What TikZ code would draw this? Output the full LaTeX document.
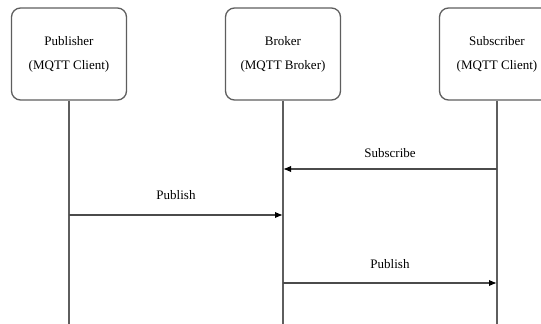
\documentclass[tikz,border=0pt]{standalone}
\usepackage{fontspec}
\setmainfont{Liberation Serif}
\usetikzlibrary{arrows.meta, positioning}
\definecolor{cline}{HTML}{5E5E5E}
\tikzset{
  every picture/.style={font=\fontsize{13}{24}\selectfont, line width=1.3pt},
  actor/.style={draw=cline, fill=white, rounded corners=9pt, align=center, minimum width=115pt, minimum height=92pt, inner sep=0pt},
  life/.style={draw=cline},
  msg/.style={-{Latex[length=8pt, width=6.5pt, black]}, draw=cline!80!black, line width=1.5pt},
}
\begin{document}
\begin{tikzpicture}[x=1pt, y=1pt, lbl/.style={above=5pt, text=black}]
  \useasboundingbox (0,0) rectangle (541,324);
  % participants
  \node[actor] (pub) at (69,270) {Publisher\\(MQTT Client)};
  \node[actor] (brk) at (283,270) {Broker\\(MQTT Broker)};
  \node[actor] (sub) at (497,270) {Subscriber\\(MQTT Client)};
  % lifelines
  \foreach \p in {pub, brk, sub} {
    \coordinate (\p-end) at (\p |- 0,0);
    \draw[life] (\p) -- (\p-end);
  }
  % messages
  \coordinate (sub-m1) at (sub |- 0,155); \coordinate (brk-m1) at (brk |- 0,155);
  \coordinate (pub-m2) at (pub |- 0,109); \coordinate (brk-m2) at (brk |- 0,109);
  \coordinate (brk-m3) at (brk |- 0,41);  \coordinate (sub-m3) at (sub |- 0,41);
  \draw[msg] (sub-m1) -- node[lbl, above=7pt] {Subscribe} (brk-m1);
  \draw[msg] (pub-m2) -- node[lbl, above=11pt] {Publish} (brk-m2);
  \draw[msg] (brk-m3) -- node[lbl, above=10pt] {Publish} (sub-m3);
\end{tikzpicture}
\end{document}
